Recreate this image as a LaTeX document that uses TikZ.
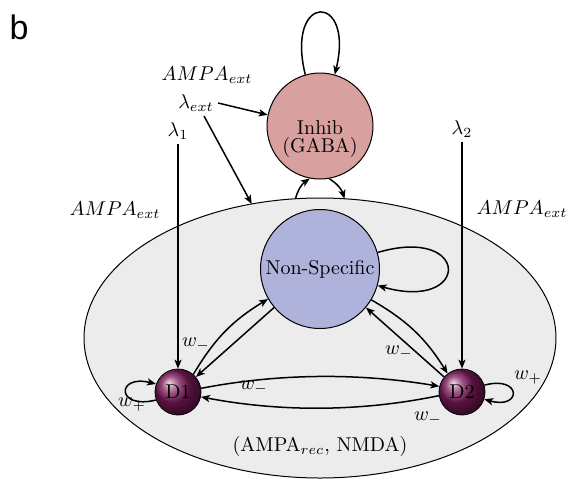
\documentclass[tikz,border=0pt]{standalone}
\usepackage{fontspec}
\newfontfamily\labfont{Liberation Sans}
\usetikzlibrary{shapes.geometric,arrows.meta,shadings}
\definecolor{inhcol}{RGB}{217,160,160}
\definecolor{nscol}{RGB}{175,178,218}
\definecolor{popcol}{RGB}{236,236,236}
\definecolor{dcol}{RGB}{125,25,90}
\tikzset{
  arr/.style={-{Stealth[length=4.5pt,width=3.6pt,inset=1.2pt]}, line width=0.75pt},
  pool/.style={circle, draw=black, line width=0.5pt, inner sep=0pt, font=\normalsize},
  ball/.style={circle, draw=black, line width=0.4pt, inner sep=0pt, minimum size=23pt, shading=ball, ball color=dcol},
  lab/.style={inner sep=2pt}
}
\begin{document}
\begin{tikzpicture}[x=0.5pt,y=-0.5pt]
\useasboundingbox (0,0) rectangle (569,478);
\node[font=\labfont\fontsize{17}{19}\selectfont] (b) at (19,27) {b};
% population ellipse
\node[ellipse, draw=black, line width=0.5pt, fill=popcol, minimum width=236pt, minimum height=140pt, inner sep=0pt, outer sep=0pt] (pop) at (320,338) {};
% pools
\node[pool, fill=inhcol, minimum size=53pt] (inh) at (320,126) {};
\node[align=center, inner sep=0pt] (inhtxt) at (320,139) {Inhib\\[-3pt](GABA)};
\node[pool, fill=nscol, minimum size=59.5pt] (ns) at (320,269) {Non-Specific};
\node[ball] (d1) at (178,392) {D1};
\node[ball] (d2) at (462,392) {D2};
% labels
\node[lab] (ampatop) at (207,75) {$AMPA_{ext}$};
\node[lab] (lext) at (196,103) {$\lambda_{ext}$};
\node[lab] (l1) at (178,131) {$\lambda_1$};
\node[lab] (l2) at (462,129) {$\lambda_2$};
\node[lab] (ampal) at (115,210) {$AMPA_{ext}$};
\node[lab] (ampar) at (522,209) {$AMPA_{ext}$};
\coordinate (lextb) at (204,116);
\node[lab] (wa) at (196,345) {$w_-$};
\node[lab] (wb) at (132,405) {$w_+$};
\node[lab] (wc) at (254,388) {$w_-$};
\node[lab] (wd) at (399,353) {$w_-$};
\node[lab] (we) at (528,378) {$w_+$};
\node[lab] (wf) at (428,419) {$w_-$};
\node[lab] (rec) at (320,446) {(AMPA$_{rec}$, NMDA)};
% external inputs
\draw[arr] (lext.east) -- (inh.168);
\draw[arr] (lextb) -- (pop.117.7);
\draw[arr] (l1.south) -- (d1.north);
\draw[arr] (l2.south) -- (d2.north);
% inhib <-> population
\draw[arr] (pop.100.1) to[bend left=20] (inh.259);
\draw[arr] (inh.280) to[bend left=20] (pop.80.3);
% self loops
\draw[arr] (inh.106) .. controls (285,-8) and (355,-8) .. (inh.74);
\draw[arr] (ns.16) .. controls (471,225) and (471,312) .. (ns.-16);
\draw[arr] (d1.200) .. controls (116,410) and (116,374) .. (d1.160);
\draw[arr] (d2.17) .. controls (522,375) and (522,410) .. (d2.-18);
% D1 <-> NS
\draw[arr] (d1.49) to[bend left=14] (ns.210);
\draw[arr] (ns.220) -- (d1.40);
% D2 <-> NS
\draw[arr] (ns.329) to[bend left=14] (d2.128);
\draw[arr] (d2.140) -- (ns.320);
% D1 <-> D2
\draw[arr] (d1.9) .. controls (280,373) and (360,373) .. (d2.166);
\draw[arr] (d2.189) .. controls (360,412) and (280,412) .. (d1.348);
\end{tikzpicture}
\end{document}
